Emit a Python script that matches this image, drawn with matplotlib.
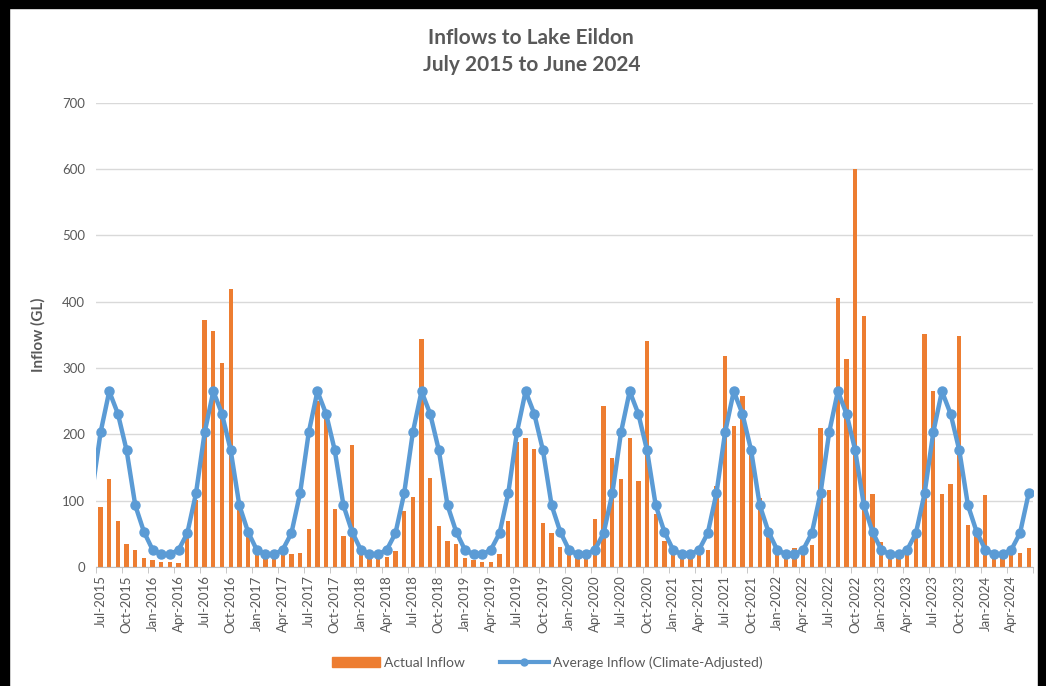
import numpy as np
import matplotlib
matplotlib.use("Agg")
import matplotlib.pyplot as plt
from matplotlib.patches import Rectangle
from matplotlib.lines import Line2D

plt.rcParams['font.family'] = ['Lato', 'DejaVu Sans']

# monthly inflows, July 2015 .. June 2024 (GL)
actual = [
    91, 133, 70, 34, 26, 13, 11, 8, 8, 6, 46, 101,          # 2015-16
    372, 356, 307, 419, 89, 50, 24, 19, 12, 18, 20, 21,     # 2016-17
    57, 251, 225, 88, 47, 184, 22, 20, 12, 15, 24, 84,      # 2017-18
    106, 344, 134, 62, 39, 35, 13, 10, 8, 8, 19, 69,        # 2018-19
    189, 194, 178, 66, 52, 30, 20, 16, 17, 73, 243, 165,    # 2019-20
    133, 194, 129, 341, 80, 39, 23, 19, 18, 18, 26, 122,    # 2020-21
    318, 213, 258, 172, 104, 48, 29, 23, 28, 26, 33, 209,   # 2021-22
    116, 406, 314, 600, 379, 110, 38, 21, 18, 26, 46, 351,  # 2022-23
    265, 110, 125, 349, 63, 46, 108, 21, 21, 26, 21, 29,    # 2023-24
]
# climate-adjusted average, Jul..Jun
avg_month = [203, 265, 231, 176, 93, 53, 26, 19, 19, 26, 51, 111]

month_names = ['Jul', 'Aug', 'Sep', 'Oct', 'Nov', 'Dec',
               'Jan', 'Feb', 'Mar', 'Apr', 'May', 'Jun']
n = len(actual)
labels = []
for i in range(n):
    yr = 2015 + (i + 6) // 12
    labels.append(month_names[i % 12] + '-' + str(yr))

x = np.arange(n)
avg = np.tile(avg_month, n // 12)
# June 2015 average carries the line in from the left edge
x_line = np.concatenate(([-1], x))
y_line = np.concatenate(([avg_month[-1]], avg))

orange = '#ED7D31'
blue = '#5B9BD5'
grey = '#595959'

fig = plt.figure(figsize=(10.46, 6.86), dpi=100)
ax = fig.add_axes([0.092, 0.1735, 0.896, 0.6765])

ax.bar(x, actual, width=0.5, color=orange, zorder=2)
ax.plot(x_line, y_line, color=blue, lw=3.2, marker='o', ms=6.5,
        markevery=list(range(1, n + 1)), zorder=3, solid_joinstyle='round')

ax.set_xlim(-0.45, n - 0.45)
ax.set_ylim(0, 700)
ax.set_yticks(np.arange(0, 701, 100))
ax.yaxis.grid(True, color='#d9d9d9', lw=1)
ax.set_axisbelow(True)
ax.tick_params(axis='y', length=0, labelsize=9.5, labelcolor=grey, pad=8)

ax.set_xticks(x[::3])
ax.set_xticklabels(labels[::3], rotation=90, fontsize=9.5, color=grey)
ax.set_xticks(np.arange(-0.5, n, 3), minor=True)
ax.tick_params(axis='x', which='major', length=0, pad=6)
ax.tick_params(axis='x', which='minor', length=4, color='#bfbfbf')

for s in ['top', 'right', 'left']:
    ax.spines[s].set_visible(False)
ax.spines['bottom'].set_color('#bfbfbf')

ax.set_ylabel('Inflow (GL)', fontsize=11, fontweight='bold', color=grey,
              labelpad=12)

fig.text(0.508, 0.925, 'Inflows to Lake Eildon\nJuly 2015 to June 2024',
         ha='center', va='center', fontsize=15, fontweight='bold',
         color=grey, linespacing=1.45)

handles = [Rectangle((0, 0), 1, 1, color=orange),
           Line2D([], [], color=blue, lw=3, marker='o', ms=5)]
fig.legend(handles, ['Actual Inflow', 'Average Inflow (Climate-Adjusted)'],
           loc='center', bbox_to_anchor=(0.523, 0.034), ncol=2, frameon=False,
           fontsize=10, labelcolor=grey, handlelength=3.5, columnspacing=2.5,
           handletextpad=0.3)

# dark frame round the chart
fig.patches.append(Rectangle((0, 0.988), 1, 0.012, transform=fig.transFigure,
                             color='black', zorder=10))
fig.patches.append(Rectangle((0, 0), 0.009, 1, transform=fig.transFigure,
                             color='black', zorder=10))
fig.patches.append(Rectangle((0.992, 0), 0.008, 1, transform=fig.transFigure,
                             color='black', zorder=10))

fig.savefig('out.png', dpi=100)
